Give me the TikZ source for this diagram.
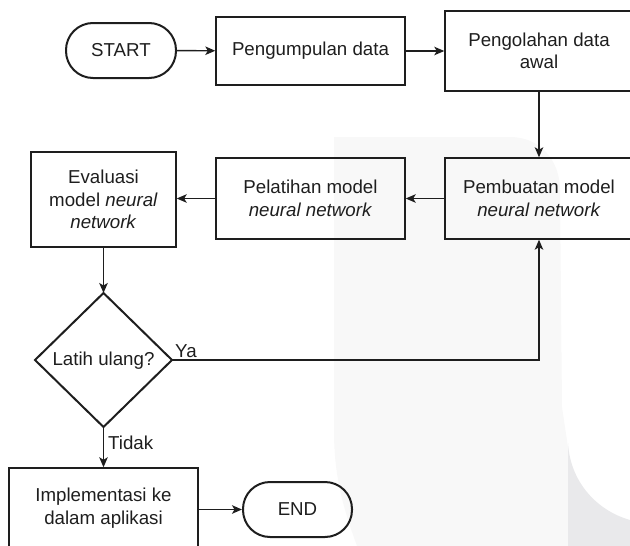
\documentclass[tikz,border=0pt]{standalone}
\usepackage{fontspec}
\setmainfont{Liberation Sans}
\usetikzlibrary{arrows.meta}
\definecolor{wmlight}{HTML}{F8F8F8}
\definecolor{wmgray}{HTML}{E9E9EB}
\definecolor{ink}{HTML}{1E1E1E}
\begin{document}
\begin{tikzpicture}[x=1pt,y=-1pt,
  every node/.style={font=\fontsize{18.7}{22.5}\selectfont, text=ink},
  box/.style={draw=ink, line width=1.4pt, rectangle, align=center, inner sep=0pt},
  term/.style={draw=ink, line width=2pt, rectangle, rounded corners=27pt, align=center, inner sep=0pt},
  arr/.style={draw=ink, line width=1.4pt, -{Stealth[length=10pt,width=8.5pt,inset=2.5pt]}},
  lbl/.style={inner sep=0pt, anchor=base west}]
\useasboundingbox (0,0) rectangle (630,546);
% watermark
\fill[wmlight] (334,137) -- (510,137) .. controls (540,137) and (560,160) .. (560,190)
  -- (562,407) -- (568,447) -- (568,546) -- (357,546) .. controls (340,500) and (334,470) .. (334,430) -- cycle;
\fill[wmgray] (568,443) .. controls (570,480) and (595,510) .. (630,520) -- (630,546) -- (568,546) -- cycle;
% nodes
\node[term, minimum width=110pt, minimum height=55pt] (start) at (121,50.5) {START};
\node[box, minimum width=189pt, minimum height=68pt] (collect) at (310.5,51) {Pengumpulan data};
\node[box, minimum width=188pt, minimum height=80pt] (prep) at (539,51) {Pengolahan data\\awal};
\node[box, minimum width=188pt, minimum height=81pt] (build) at (539,198.5) {Pembuatan model\\\textit{neural network}};
\node[box, minimum width=189pt, minimum height=81pt] (train) at (310.5,198.5) {Pelatihan model\\\textit{neural network}};
\node[box, minimum width=145pt, minimum height=95pt] (eval) at (103.5,199.5) {Evaluasi\\model \textit{neural}\\\textit{network}};
\coordinate (dtop) at (103.5,293);
\coordinate (dright) at (172,360);
\coordinate (dbottom) at (103.5,427);
\coordinate (dleft) at (35,360);
\draw[draw=ink, line width=2pt, line join=miter] (dtop) -- (dright) -- (dbottom) -- (dleft) -- cycle;
\node[inner sep=0pt] (dec) at (103.5,361) {Latih ulang?};
\node[box, minimum width=189pt, minimum height=80pt] (impl) at (103.5,508) {Implementasi ke\\dalam aplikasi};
\node[term, minimum width=109pt, minimum height=55pt] (end) at (297.5,509.5) {END};
% connectors
\draw[arr] (start) -- (collect);
\draw[arr] (collect) -- (collect -| prep.west);
\draw[arr] (prep) -- (build);
\draw[arr] (build) -- (train);
\draw[arr] (train.west) -- (train.west -| eval.east);
\draw[arr] (eval) -- (dtop);
\draw[arr] (dright) -| (build.south);
\draw[arr] (dbottom) -- (impl.north);
\draw[arr] (impl.east |- end) -- (end);
% labels
\node[lbl] (ya) at (175,357) {Ya};
\node[lbl] (tidak) at (108,449.5) {Tidak};
\end{tikzpicture}
\end{document}
